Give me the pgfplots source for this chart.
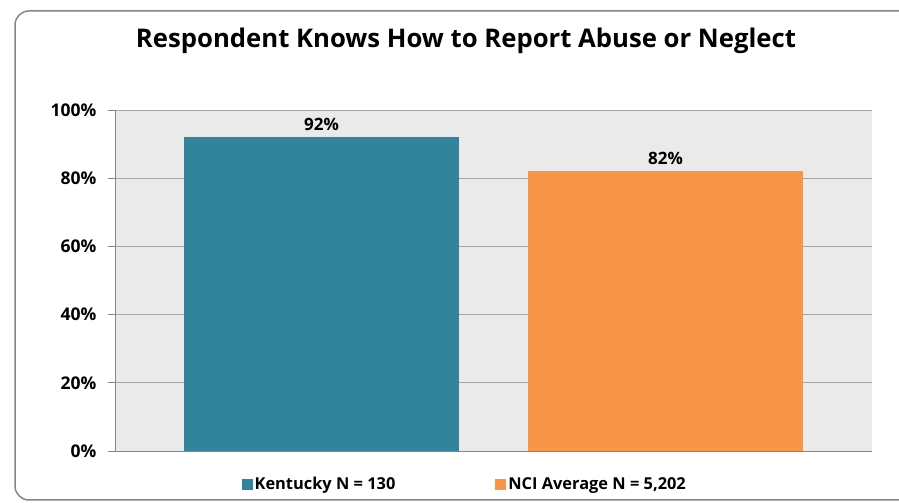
\documentclass[border=0pt]{standalone}
\usepackage{pgfplots}
\pgfplotsset{compat=1.18}
\usepackage{fontspec}
\setmainfont{Open Sans}
\definecolor{kyteal}{HTML}{31849B}
\definecolor{nciorange}{HTML}{F79646}
\definecolor{plotbg}{HTML}{EAEAEA}
\definecolor{gridc}{HTML}{A6A6A6}
\definecolor{framec}{HTML}{868686}
\begin{document}
\begin{tikzpicture}[x=1pt,y=1pt]
\useasboundingbox (0,0) rectangle (899,503);
\draw[framec, line width=1.5pt, rounded corners=14pt] (15,3) rectangle (915,492);
\node[font=\fontsize{25.7}{30}\selectfont\bfseries, anchor=base] at (466,455) {Respondent Knows How to Report Abuse or Neglect};
\begin{axis}[
  at={(115pt,52pt)}, anchor=south west,
  scale only axis, width=757pt, height=341pt,
  xmin=-0.6, xmax=1.6, ymin=0, ymax=100,
  axis background/.style={fill=plotbg},
  ybar, bar width=0.8, bar shift=0pt,
  xtick=\empty,
  ytick={0,20,40,60,80,100},
  yticklabel={\pgfmathprintnumber{\tick}\%},
  /pgf/number format/assume math mode=true,
  yticklabel style={font=\fontsize{17.5}{20}\selectfont\bfseries, xshift=-8pt},
  ymajorgrids, grid style={gridc, line width=0.8pt},
  axis x line*=bottom, axis y line*=left,
  axis line style={framec, line width=0.8pt},
  tick style={framec, line width=0.8pt},
  major tick length=7pt, tick align=outside,
  y axis line style={-}, x axis line style={-},
  nodes near coords={\pgfmathprintnumber{\pgfplotspointmeta}\%},
  nodes near coords style={font=\fontsize{17}{19}\selectfont\bfseries, black, yshift=3pt},
  legend columns=2,
  legend style={at={(0.462,-0.097)}, anchor=center, draw=none, fill=none,
    font=\fontsize{16.4}{19}\selectfont\bfseries,
    /tikz/every even column/.append style={column sep=98pt}},
  legend image code/.code={\fill[#1] (0pt,-5.5pt) rectangle (11pt,5.5pt);},
]
\addplot[fill=kyteal, draw=none] coordinates {(0,92)};
\addplot[fill=nciorange, draw=none] coordinates {(1,82)};
\legend{Kentucky N = 130, NCI Average N = 5{,}202}
\end{axis}
\end{tikzpicture}
\end{document}
